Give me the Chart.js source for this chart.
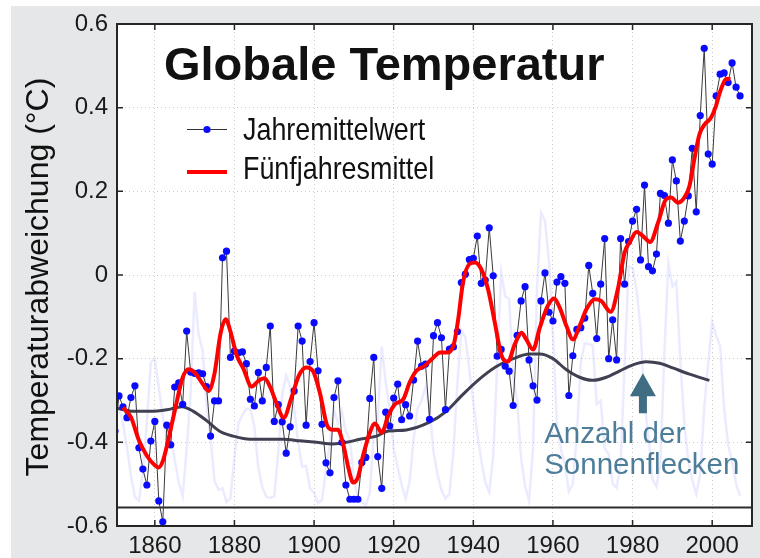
<!DOCTYPE html>
<html>
<head>
<meta charset="utf-8">
<script src="https://cdn.jsdelivr.net/npm/chart.js@4.4.1/dist/chart.umd.min.js"></script>
<style>
  html, body { margin: 0; padding: 0; background: #fff; }
  #wrap { width: 760px; height: 558px; }
</style>
</head>
<body>
<div id="wrap"><canvas id="tempChart" width="760" height="558"></canvas></div>
<script>
// Jahresmittel der Temperaturabweichung (°C), 1850-2007
const firstYear = 1850;
const annualTemps = [
  -0.373, -0.289, -0.315, -0.341, -0.293, -0.265, -0.413, -0.464, -0.502, -0.397,
  -0.350, -0.540, -0.590, -0.359, -0.406, -0.268, -0.258, -0.309, -0.134, -0.232,
  -0.235, -0.234, -0.236, -0.267, -0.385, -0.301, -0.301, 0.041, 0.057, -0.197,
  -0.182, -0.186, -0.184, -0.212, -0.297, -0.313, -0.233, -0.301, -0.221, -0.122,
  -0.350, -0.310, -0.351, -0.426, -0.363, -0.277, -0.122, -0.158, -0.359, -0.207,
  -0.114, -0.229, -0.357, -0.449, -0.473, -0.293, -0.253, -0.400, -0.502, -0.536,
  -0.536, -0.536, -0.448, -0.436, -0.295, -0.197, -0.434, -0.510, -0.328, -0.361,
  -0.294, -0.261, -0.346, -0.310, -0.337, -0.251, -0.158, -0.218, -0.213, -0.345,
  -0.145, -0.114, -0.150, -0.322, -0.177, -0.172, -0.135, -0.018, 0.002, 0.037,
  0.040, 0.093, -0.020, -0.012, 0.113, -0.002, -0.194, -0.178, -0.218, -0.230,
  -0.312, -0.144, -0.062, -0.028, -0.203, -0.265, -0.299, -0.062, 0.005, -0.089,
  -0.110, -0.017, -0.004, -0.020, -0.288, -0.193, -0.130, -0.126, -0.103, 0.023,
  -0.044, -0.152, -0.022, 0.087, -0.200, -0.107, -0.203, 0.087, -0.022, 0.080,
  0.129, 0.157, 0.036, 0.215, 0.020, 0.010, 0.050, 0.195, 0.190, 0.124,
  0.275, 0.225, 0.081, 0.129, 0.189, 0.303, 0.151, 0.381, 0.542, 0.289,
  0.265, 0.428, 0.480, 0.483, 0.460, 0.507, 0.449, 0.428
];

// Fünfjahresmittel
const fiveYearYears = [
  1852, 1854, 1856, 1858, 1860, 1861, 1862, 1863, 1865, 1867,
  1868.5, 1870, 1872, 1873.5, 1875, 1876.5, 1877.8, 1879, 1880.5, 1882.3,
  1884.3, 1886, 1887.5, 1889, 1890.3, 1892.4, 1894.2, 1896.2, 1898, 1899.7,
  1901.5, 1903.3, 1904.8, 1906, 1907.3, 1908.7, 1909.8, 1911, 1912.3, 1914,
  1915.3, 1917, 1918.6, 1920.3, 1922.4, 1924, 1925.7, 1927.8, 1930, 1931.6,
  1933.3, 1935, 1936.2, 1937.4, 1939, 1940.4, 1942, 1943.7, 1945.4, 1947.1,
  1948.7, 1950.4, 1952.1, 1953.3, 1955, 1956.7, 1958.7, 1960.3, 1961.7, 1963.4,
  1965, 1966.7, 1968.4, 1970.5, 1972.1, 1974.5, 1976.3, 1978, 1979.4, 1981,
  1982.6, 1984.4, 1986.4, 1988.4, 1989.7, 1991.4, 1993, 1994.3, 1995.5, 1996.8,
  1998.1, 1999.7, 2000.8, 2002.2, 2003.7, 2004.6
];
const fiveYearMeans = [
  -0.317, -0.340, -0.395, -0.432, -0.455, -0.460, -0.445, -0.410, -0.325, -0.245,
  -0.225, -0.233, -0.260, -0.277, -0.235, -0.140, -0.106, -0.135, -0.190, -0.225,
  -0.267, -0.253, -0.247, -0.268, -0.300, -0.341, -0.297, -0.240, -0.221, -0.229,
  -0.283, -0.360, -0.370, -0.370, -0.404, -0.464, -0.496, -0.484, -0.432, -0.377,
  -0.355, -0.377, -0.337, -0.309, -0.297, -0.257, -0.229, -0.217, -0.197, -0.185,
  -0.185, -0.169, -0.106, -0.018, 0.026, 0.030, 0.014, -0.034, -0.114, -0.193,
  -0.207, -0.166, -0.138, -0.154, -0.178, -0.126, -0.074, -0.056, -0.078, -0.122,
  -0.154, -0.122, -0.082, -0.058, -0.062, -0.088, -0.034, 0.054, 0.080, 0.103,
  0.093, 0.079, 0.125, 0.181, 0.185, 0.173, 0.185, 0.213, 0.276, 0.336,
  0.360, 0.376, 0.400, 0.444, 0.469, 0.468
];

// Sonnenflecken: Jahreswerte and the smoothed curve (sunspot number)
const sunspotAnnual = [
  66.6, 64.5, 54.1, 39.0, 20.6, 6.7, 4.3, 22.7, 54.8, 93.8,
  95.8, 77.2, 59.1, 44.0, 47.0, 30.5, 16.3, 7.3, 37.6, 74.0,
  139.0, 111.2, 101.6, 66.2, 44.7, 17.0, 11.3, 12.4, 3.4, 6.0,
  32.3, 54.3, 59.7, 63.7, 63.5, 52.2, 25.4, 13.1, 6.8, 6.3,
  7.1, 35.6, 73.0, 85.1, 78.0, 64.0, 41.8, 26.2, 26.7, 12.1,
  9.5, 2.7, 5.0, 24.4, 42.0, 63.5, 53.8, 62.0, 48.5, 43.9,
  18.6, 5.7, 3.6, 1.4, 9.6, 47.4, 57.1, 103.9, 80.6, 63.6,
  37.6, 26.1, 14.2, 5.8, 16.7, 44.3, 63.9, 69.0, 77.8, 64.9,
  35.7, 21.2, 11.1, 5.7, 8.7, 36.1, 79.7, 114.4, 109.6, 88.8,
  67.8, 47.5, 30.6, 16.3, 9.6, 33.2, 92.6, 151.6, 136.3, 134.7,
  83.9, 69.4, 31.5, 13.9, 4.4, 38.0, 141.7, 190.2, 184.8, 159.0,
  112.3, 53.9, 37.6, 27.9, 10.2, 15.1, 47.0, 93.8, 105.9, 105.5,
  104.5, 66.6, 68.9, 38.0, 34.5, 15.5, 12.6, 27.5, 92.5, 155.4,
  154.6, 140.4, 115.9, 66.6, 45.9, 17.9, 13.4, 29.4, 100.2, 157.6,
  142.6, 145.7, 94.3, 54.6, 29.9, 17.5, 8.6, 21.5, 64.3, 93.3,
  119.6, 111.0, 104.0, 63.7, 40.4, 29.8, 15.2, 7.5
];
const sunspotSmoothYears = [
  1850.5, 1854.6, 1858.8, 1863, 1866.8, 1869.7, 1873, 1876.4, 1879.7, 1883.9,
  1888.1, 1892.3, 1896.4, 1900.6, 1904.8, 1908.2, 1911.5, 1915.7, 1918.2, 1923.2,
  1929, 1933.2, 1937.4, 1941.6, 1945.8, 1950, 1954.1, 1956.7, 1960, 1963.3,
  1966.7, 1970, 1973.4, 1976.7, 1980.1, 1983.4, 1986.8, 1990.1, 1994.3, 1999.3
];
const sunspotSmooth = [
  64, 62, 62, 63, 65, 62, 56, 49, 46, 44,
  44, 44, 43, 42, 41, 42, 44, 46, 49, 50,
  55, 62, 73, 83, 91, 96, 99, 99, 96, 89,
  84, 82, 84, 88, 92, 94, 93, 90, 86, 82
];

const xTicks = [1860, 1880, 1900, 1920, 1940, 1960, 1980, 2000];
const yTicks = [0.6, 0.4, 0.2, 0, -0.2, -0.4, -0.6];

const FONT = '"Liberation Sans", Arial, Helvetica, sans-serif';
const years = annualTemps.map((_, i) => firstYear + i);
const pts = (xs, ys) => xs.map((x, i) => ({ x: x, y: ys[i] }));

const decor = {
  id: 'decor',
  beforeDraw(chart) {
    const { ctx, chartArea: a, width, height } = chart;
    ctx.save();
    ctx.fillStyle = '#ffffff';
    ctx.fillRect(0, 0, width, height);
    ctx.fillStyle = '#e6e7e9';
    ctx.fillRect(11, 6, width - 11, height - 6);
    ctx.fillStyle = '#ffffff';
    ctx.fillRect(a.left, a.top, a.right - a.left, a.bottom - a.top);
    ctx.restore();
  },
  afterDatasetsDraw(chart) {
    const { ctx, chartArea: a, scales } = chart;
    const x = scales.x, y = scales.y;
    ctx.save();

    // frame + inward ticks
    ctx.strokeStyle = '#262626';
    ctx.lineWidth = 2;
    ctx.strokeRect(a.left, a.top, a.right - a.left, a.bottom - a.top);
    ctx.lineWidth = 1.5;
    ctx.beginPath();
    xTicks.forEach(v => {
      const px = x.getPixelForValue(v);
      ctx.moveTo(px, a.bottom); ctx.lineTo(px, a.bottom - 6);
      ctx.moveTo(px, a.top); ctx.lineTo(px, a.top + 6);
    });
    yTicks.forEach(v => {
      const py = y.getPixelForValue(v);
      ctx.moveTo(a.left, py); ctx.lineTo(a.left + 6, py);
      ctx.moveTo(a.right, py); ctx.lineTo(a.right - 6, py);
    });
    ctx.stroke();

    // y axis title
    ctx.fillStyle = '#111';
    ctx.font = '32px ' + FONT;
    ctx.textAlign = 'center';
    ctx.textBaseline = 'alphabetic';
    ctx.save();
    ctx.translate(48, (a.top + a.bottom) / 2 + 2);
    ctx.rotate(-Math.PI / 2);
    ctx.fillText('Temperaturabweichung (°C)', 0, 0);
    ctx.restore();

    // title
    ctx.textAlign = 'left';
    ctx.font = 'bold 47px ' + FONT;
    ctx.fillText('Globale Temperatur', a.left + 47, a.top + 56);

    // legend
    const lx0 = a.left + 70, lx1 = a.left + 110;
    ctx.strokeStyle = '#333';
    ctx.lineWidth = 1.2;
    ctx.beginPath();
    ctx.moveTo(lx0, a.top + 105.5); ctx.lineTo(lx1, a.top + 105.5);
    ctx.stroke();
    ctx.fillStyle = '#0a0aff';
    ctx.beginPath();
    ctx.arc((lx0 + lx1) / 2, a.top + 105.5, 3.6, 0, Math.PI * 2);
    ctx.fill();
    ctx.strokeStyle = '#ff0000';
    ctx.lineWidth = 4;
    ctx.beginPath();
    ctx.moveTo(lx0, a.top + 148); ctx.lineTo(lx1, a.top + 148);
    ctx.stroke();
    ctx.fillStyle = '#111';
    ctx.font = '32px ' + FONT;
    [['Jahremittelwert', 116], ['Fünfjahresmittel', 154.5]].forEach(([t, dy]) => {
      ctx.save();
      ctx.translate(a.left + 126, a.top + dy);
      ctx.scale(0.84, 1);
      ctx.fillText(t, 0, 0);
      ctx.restore();
    });

    // sunspot annotation (anchored in data units)
    const tipX = x.getPixelForValue(1982.6), tipY = y.getPixelForValue(-0.235);
    ctx.fillStyle = '#3f6e84';
    ctx.beginPath();
    ctx.moveTo(tipX, tipY);
    ctx.lineTo(tipX + 13, tipY + 23);
    ctx.lineTo(tipX + 4, tipY + 23);
    ctx.lineTo(tipX + 4, tipY + 40);
    ctx.lineTo(tipX - 4, tipY + 40);
    ctx.lineTo(tipX - 4, tipY + 23);
    ctx.lineTo(tipX - 13, tipY + 23);
    ctx.closePath();
    ctx.fill();
    ctx.fillStyle = '#4d7d99';
    ctx.font = '29.5px ' + FONT;
    const tx = x.getPixelForValue(1957.8);
    ctx.fillText('Anzahl der', tx, y.getPixelForValue(-0.402));
    ctx.fillText('Sonnenflecken', tx, y.getPixelForValue(-0.476));
    ctx.restore();
  }
};

new Chart(document.getElementById('tempChart').getContext('2d'), {
  type: 'line',
  data: {
    datasets: [
      {
        label: 'Fünfjahresmittel',
        data: pts(fiveYearYears, fiveYearMeans),
        borderColor: '#ff0000',
        borderWidth: 4,
        pointRadius: 0,
        cubicInterpolationMode: 'monotone',
        yAxisID: 'y'
      },
      {
        label: 'Jahremittelwert',
        data: pts(years, annualTemps),
        borderColor: '#3a3a3a',
        borderWidth: 1,
        pointRadius: 3.6,
        pointBackgroundColor: '#0a0aff',
        pointBorderColor: '#0a0aff',
        pointBorderWidth: 0,
        tension: 0,
        yAxisID: 'y'
      },
      {
        label: 'Sonnenflecken (geglättet)',
        data: pts(sunspotSmoothYears, sunspotSmooth),
        borderColor: '#404052',
        borderWidth: 3,
        pointRadius: 0,
        cubicInterpolationMode: 'monotone',
        yAxisID: 'ss'
      },
      {
        label: 'Nulllinie',
        data: [{ x: 1850, y: 0 }, { x: 2010, y: 0 }],
        borderColor: '#2d2d2d',
        borderWidth: 2,
        pointRadius: 0,
        yAxisID: 'ss'
      },
      {
        label: 'Sonnenflecken',
        data: pts(years, sunspotAnnual),
        borderColor: 'rgba(110, 110, 255, 0.14)',
        borderWidth: 2.5,
        pointRadius: 0,
        tension: 0,
        yAxisID: 'ss'
      }
    ]
  },
  options: {
    responsive: false,
    animation: false,
    events: [],
    layout: { padding: { top: 24, right: 8, left: 0, bottom: 0 } },
    plugins: {
      legend: { display: false },
      tooltip: { enabled: false }
    },
    scales: {
      x: {
        type: 'linear',
        min: 1850.5,
        max: 2010,
        afterBuildTicks: s => { s.ticks = xTicks.map(v => ({ value: v })); },
        afterFit: s => { s.height = 32; },
        ticks: {
          font: { family: FONT, size: 24 },
          color: '#1a1a1a',
          padding: 6,
          maxRotation: 0,
          callback: v => String(v)
        },
        grid: { color: '#cacaca', lineWidth: 1, drawTicks: false },
        border: { display: false, dash: [1, 3] }
      },
      y: {
        min: -0.6,
        max: 0.6,
        afterBuildTicks: s => { s.ticks = yTicks.map(v => ({ value: v })); },
        afterFit: s => { s.width = 117; },
        ticks: {
          font: { family: FONT, size: 24 },
          color: '#1a1a1a',
          padding: 9,
          callback: v => (v === 0 ? '0' : v.toFixed(1))
        },
        grid: { color: '#cacaca', lineWidth: 1, drawTicks: false },
        border: { display: false, dash: [1, 3] }
      },
      ss: {
        display: false,
        position: 'right',
        min: -12,
        max: 312
      }
    }
  },
  plugins: [decor]
});
</script>
</body>
</html>
